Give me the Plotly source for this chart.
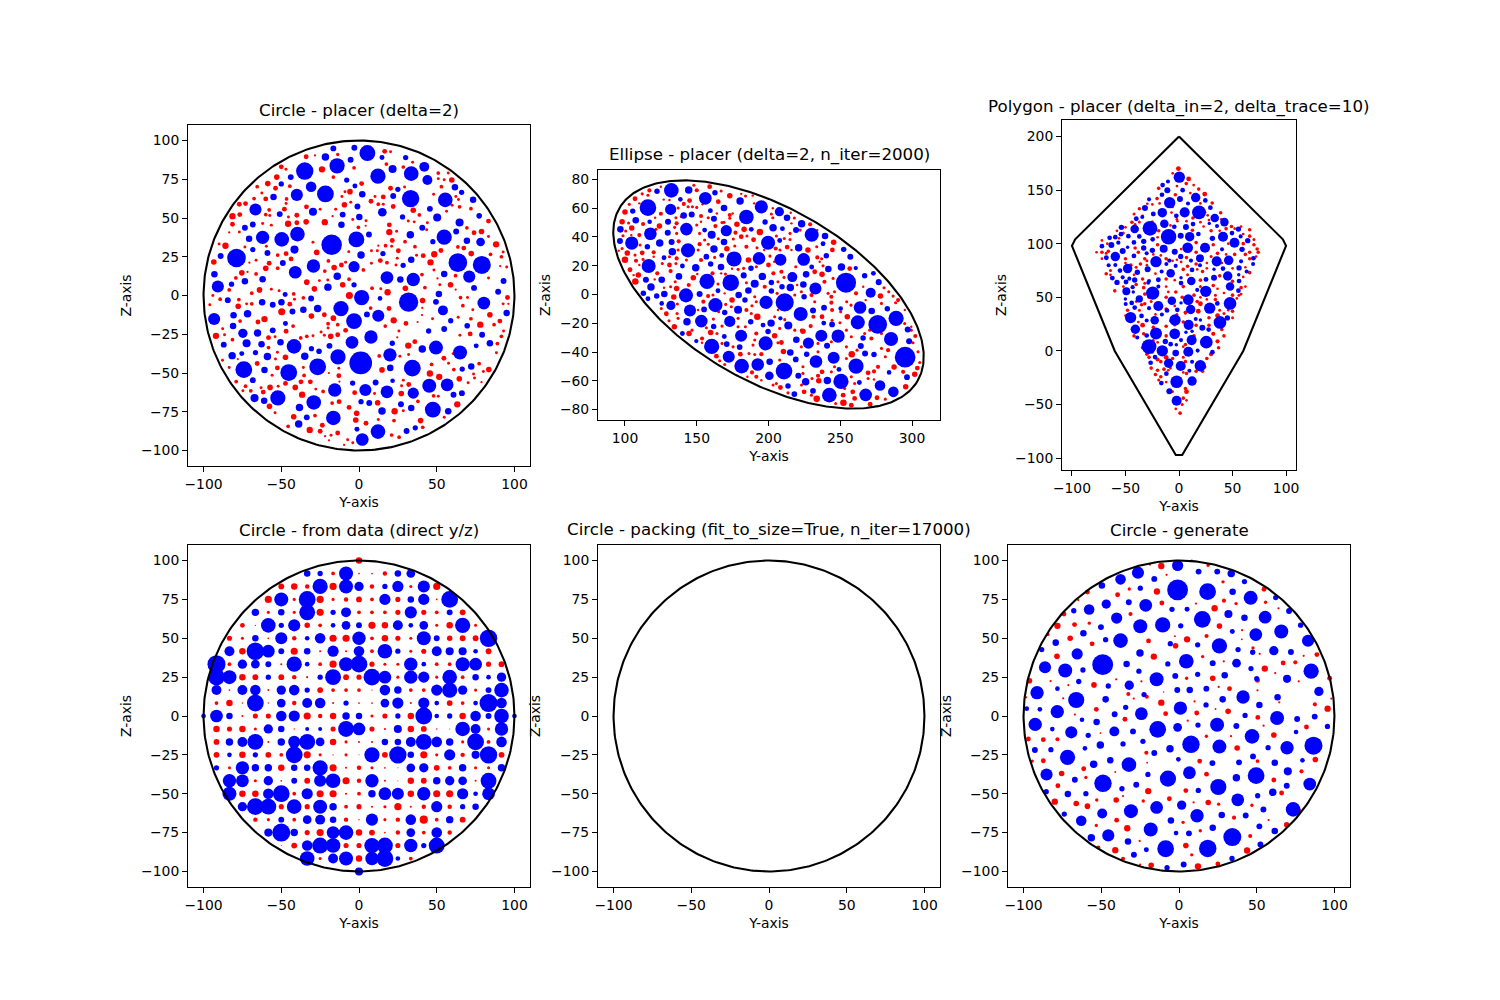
import numpy as np
import plotly.graph_objects as go

# Each placed disc is (y, z, radius) in axis units.
CIRCLE_BLUE = [
(5.4,91.9,5.1),(-16.5,94.9,1.9),(-3,95.3,1.9),(-21.6,89.3,2.4),(-34.9,80.3,5.6),(-14.1,83.7,4.9),(-5.4,87.6,1.9),(14.8,89,1.6),(30,89,1.7),(12.2,77,4.9),
(21.6,81.6,2.6),(33.6,78.6,4.7),(42,83,3.2),(44,74.5,3.2),(-43.9,76.4,1.9),(-7.9,74.5,1.7),(-50,72,1.7),(-30.8,70.2,3.4),(-2.6,70.7,1.6),(-21.6,65.5,5.4),
(-40,64.9,3.9),(-55,63.6,2.1),(2.1,65.3,2.1),(25,68.5,1.7),(22,64.2,1.9),(33.2,62.5,5.6),(55.5,61.7,4.7),(61.7,69.8,2.1),(66,66.6,1.7),(73.4,61.7,2.1),
(-66.6,55.5,3.9),(-1,57.4,1.9),(-29.6,54,2.6),(15,53.7,2.8),(-51,52.5,1.9),(-10.5,52.2,1.9),(0.2,50.7,2.1),(28,50.7,1.7),(45.6,55.9,1.9),(50.3,50.3,2.6),
(77.3,51.4,1.8),(64.7,47.1,2.6),(-11.3,45.6,2.1),(-68.3,45.8,1.9),(-73.4,43.7,1.9),(40.7,43.7,1.9),(62.5,41.3,1.9),(-39.6,39.6,4.7),(-62,37.5,4.3),(-70.7,36.6,2.1),
(-49.7,36.2,4.7),(33,39.2,2.4),(6.4,39.4,1.9),(-1.7,36.2,5.1),(-17.6,32.8,6.6),(54.8,37.7,4.9),(69.4,35.3,2.1),(78.2,34.5,2.8),(47.5,34.7,1.7),(-41.5,29.6,2.6),
(-68.3,29.6,1.7),(-58.9,27.4,1.9),(15.4,27,1.7),(1.3,26.1,2.4),(-89,25.5,1.9),(-78.8,24.2,6),(63.6,21.2,6),(79,19.7,5.8),(-49,21,1.9),(33.6,23.1,2.1),
(28.4,19.5,1.7),(-29.3,19,4.3),(-3.2,18.6,3.6),(-41,15,4.1),(-93,13.7,2.1),(54.8,13.9,2.1),(70.9,12.2,3.9),(-14,12.4,2.4),(18,11.6,4.1),(-62,10.5,2.1),
(26.6,10.3,2.1),(34.9,10.3,4.3),(-73.4,9.2,2.1),(93,9.4,1.9),(-82,7.3,1.7),(-90.8,5.8,3.9),(-3.2,6.9,1.7),(-20,5.4,2.4),(74,4.9,1.9),(89.5,2.4,1.9),
(-47.5,0.6,1.6),(51.4,0.9,2.1),(1.7,-1.3,4.9),(31.9,-4.3,6.2),(13.5,-1.9,1.5),(-84.4,-3,1.9),(-30.8,-1.9,1.9),(-62.3,-4.3,2.1),(-49.9,-4.3,2.1),(-55.5,-6,1.9),
(49.5,-4.1,1.9),(80.3,-4.9,4.1),(-11.6,-8.4,4.9),(-26.6,-8.4,2.4),(-35.8,-9.2,2.1),(-42.8,-10.3,1.9),(54,-9.6,3.2),(-71.7,-11.8,2.4),(-80.7,-12.8,2.1),(95,-11.3,2.1),
(5.1,-12.2,1.9),(12.4,-13.1,3.9),(-93.2,-15.2,3.9),(-3.2,-16.5,5.1),(-47.3,-18,1.6),(59,-16.3,1.7),(-81,-19.7,2.1),(69.6,-19.5,1.8),(54.8,-21.6,1.9),(-55.5,-22.5,1.9),
(44.8,-22.9,1.7),(-74.7,-24.4,3),(-65.3,-24.2,2.4),(79.2,-25.3,1.9),(7.7,-26.8,4.3),(-4.5,-30.2,4.1),(-72.3,-30.8,2.6),(-62.7,-31.5,2.1),(-50.5,-30.2,2.1),(-41.8,-32.8,4.7),
(21.4,-30.8,1.7),(84.2,-30.8,2.1),(-87,-31.7,1.9),(-19,-32.5,1.9),(75.4,-32.5,1.6),(49.5,-33.6,4.5),(40.7,-34.5,2.4),(-30.6,-34.3,1.7),(-25.7,-36,1.8),(65,-36.8,4.5),
(-66.6,-36.8,1.7),(-75.4,-37.5,1.6),(-81.6,-38.8,2.4),(-58.9,-39.4,2.4),(-34.9,-39.2,2.4),(-13.5,-39.6,4.9),(19.9,-38.3,4.3),(1.1,-43.5,7.3),(-26.6,-46,5.4),(34.3,-46.9,5.4),
(20.1,-46.7,2.1),(-74.1,-47.8,5.4),(-45.2,-49.7,5.4),(-60.8,-48,2.1),(72.2,-45.8,2.1),(66.4,-47.5,1.7),(-68.3,-54.6,1.9),(-4.1,-56.5,1.7),(10.7,-56.1,1.9),(21.6,-55,1.5),
(45.2,-58.2,4.5),(56.7,-57.6,4.1),(-15.6,-61,4.3),(4.1,-61,3.9),(18,-62.1,4.1),(34.9,-63,3.6),(60.8,-64,1.9),(66.2,-63,1.9),(-52.2,-66,4.9),(-67.2,-66.2,2.6),
(-61,-67.9,2.1),(-29.1,-69,4.7),(-38.3,-72.2,2.4),(1.3,-68.5,1.7),(6.6,-69.4,1.9),(27,-70.2,1.9),(33.6,-72.6,2.1),(47.5,-73.6,5.1),(14.8,-74.5,2.4),(57.4,-74.7,2.1),
(-16.5,-79,4.7),(-33.6,-78.6,1.9),(-38.8,-82.9,2.4),(12.2,-87.8,4.7),(-1.3,-86.3,1.6),(30.6,-87.4,1.9),(36.2,-85.4,1.7),(2.1,-92.9,4.1),
]
CIRCLE_RED = [
(-34,89.5,1.3),(-28.3,90.4,.6),(-13.7,91,.9),(16.5,93,1.3),(20.3,92.7,.8),(-50,83,1.3),(-47,81.4,.8),(-23.8,81.4,1.7),(-3.2,82.4,1),(17.6,84.8,1),
(28.5,82.9,1),(34.5,86,.8),(-52.9,76.4,1.5),(-16.5,76.4,1),(51,79,1),(57.4,79,.8),(59.7,74.5,1.5),(51,75.4,.8),(54.8,74.7,.8),(-65.5,70.2,1),
(-58.7,72.2,1.5),(-53.7,69.2,1.3),(-44.5,70.5,1),(1.7,72.2,1.3),(-5.8,67,1.5),(-9,67,.8),(20.3,69.2,1.3),(29.3,70,.8),(53,70.2,1),(15.6,63.6,1.3),
(10.3,63.8,.8),(-67.5,62.5,1),(-62.5,66.2,.8),(-60,62.3,1.3),(-46.6,62.3,1),(-11,63.8,.8),(7.7,60.8,1.3),(48,65.3,.8),(62.3,63.8,.8),(64,62,.8),
(-77,58.9,1.3),(-73,59.3,1.3),(-46.9,59.3,.8),(-9.4,58.5,1.5),(-5.3,60.2,.8),(12.4,58.9,1),(15.6,58.9,.8),(22,57.4,1.3),(-33.8,57.2,1.3),(-25,55.7,.8),
(-48,55.7,1.3),(-57.8,55.2,1),(59.9,58.2,.8),(64.7,57.2,1),(72,56,1),(-81.4,51.2,1.7),(-76.7,52.2,1.3),(-60,52.2,1),(-57.4,51.6,.8),(-45.4,50.7,.8),
(-40,51.8,1.3),(-15,55.7,.8),(-17,51.2,.6),(34.9,55,1.5),(38.8,52,1),(56.3,54.4,.8),(-81.4,46,1.3),(-45.6,46.3,1.7),(-40,46.9,1.3),(-34,47.5,1.5),
(-22,47.3,1.7),(-62,46.5,.8),(-56.4,45.4,.8),(-4,49,.8),(-.4,44,1),(4.3,45,.6),(4.5,48.2,.8),(19.5,45.6,1.3),(31.7,48,.8),(35.5,47.5,.8),
(44,46.9,.8),(69.4,43.7,1),(83.3,48,1.3),(-83.5,40.7,.6),(-77,40.9,.8),(19.5,40.9,1.7),(24.2,41.5,.8),(74,40.5,1.3),(78.8,41.3,1.5),(83.3,38,.8),
(43.5,42.4,.8),(29.6,34.7,1),(21.4,35.5,1.3),(-29.6,34.3,.8),(-90,33.2,.8),(-85.9,32.1,1.7),(-59.6,31.7,.8),(17.1,32.1,1),(12.4,32.1,.6),(21,31.7,.8),
(36,31.5,1),(-73.4,31.3,.8),(88.2,33,1.7),(-27.2,27.8,1.5),(-46.9,27,1.3),(-52.3,26.1,1),(-6.6,28.3,.8),(8,28.9,.8),(11.8,28.9,.8),(25.3,28.9,1.3),
(52.7,29,1.3),(63.6,31.3,1),(67.4,30.6,1.3),(72.2,27,1.5),(84.6,26.6,1),(92.7,28,.8),(48.4,26.6,1.7),(41.3,25.7,1.3),(37,26,.8),(24.6,24,.8),
(-43.7,23.6,1.3),(-66.2,22.7,.8),(-70.5,21.2,.6),(-57.8,20.8,1.3),(-19.7,22.3,1),(8,20.8,.8),(13.7,22.5,1.3),(18,21.2,1),(23.8,19.7,.8),(46,21.4,1.7),
(91.6,25,1),(-93.4,21.6,1.5),(-8.6,21.4,.8),(-11.3,19.7,1.3),(-16,18,1.5),(-22,15.8,1),(-60,17.6,1.5),(-52.3,17.6,1),(-66.2,13.9,1),(-75.4,14.6,1.5),
(-71.7,15.2,.6),(2.8,16.5,1),(48.2,16.5,.8),(40.5,13.5,1),(62.1,12.8,1),(50.5,11,.6),(90.8,19,.6),(95,18.4,.8),(83.3,11.3,.8),(-79.2,11.3,1),
(-33.6,8.6,1.5),(-25.5,9.6,.8),(-10.5,6.9,1.5),(-20.1,10,.8),(-6.4,10.5,1),(-28.7,4.3,1.5),(8.4,4.7,1),(14,4.3,.8),(18.4,2.1,1.7),(29.8,4.7,1.5),
(42.4,5.1,1),(58.9,6.9,1.5),(52,6.9,.8),(62.2,3.8,.6),(-83.5,3.6,1),(-64,3.6,1.5),(-69,1.5,1),(-56.4,4.1,.8),(-51.4,3,.8),(-94,0,.8),
(-89.3,-2.4,1),(-77.3,-2.6,1),(-42,1,1),(-41.5,-2.4,.8),(-35.8,-1.5,1),(-6.2,0,1.9),(40.9,-3.2,1.5),(65.3,-1.3,1),(69.8,-1.3,.8),(95.5,-1.3,1.3),
(-96,-6,.8),(-77.7,-6.9,1.5),(-72.3,-5.4,.8),(-69,-5.4,1),(-44.5,-5.6,1.3),(-49.7,-10.5,1.9),(7.5,-8.1,1),(19.3,-8.4,1.3),(40.7,-8,.6),(66.8,-6.6,1),
(92.7,-5.4,.8),(96.1,-5.4,.6),(-30.6,-13.3,1.5),(-22.3,-12.4,1.3),(-16.5,-14.6,1.5),(73.2,-9.2,.8),(84.2,-12.4,1.5),(40.5,-12.6,.6),(-60.8,-15.2,1.7),(-65,-17.1,1.3),
(-76.5,-16.5,1),(-19.9,-18.2,1),(-13.7,-18.8,1),(22.3,-16,1.7),(30.2,-18,1.3),(16.9,-19.7,1),(47.3,-15,.8),(63.8,-14.1,.8),(72,-15,1),(78,-18.8,1.7),
(90.6,-16.5,1.3),(86.9,-18.8,1),(-42.4,-19.7,1),(-87.7,-21.4,.8),(-46.9,-23.1,1.3),(-19.9,-21,.8),(-8.6,-22.5,1.3),(-24.4,-23.6,.8),(-92,-26,1.7),(-86.5,-25.3,.8),
(-58.2,-27.2,1.3),(-54,-26.6,.8),(-37.5,-27.4,1),(-33.6,-26.3,1),(-29.6,-26,.8),(-22.3,-25.7,.8),(-18.2,-26.3,1.5),(-13.7,-25.3,1.3),(25.7,-22.9,.8),(37.7,-17.1,.6),
(64.9,-25.7,.8),(71.5,-24.8,1.3),(93,-22.9,.8),(91.6,-26.3,1),(-81.4,-28.5,1),(31.7,-32.3,1.7),(35.9,-29.8,1.3),(89,-31,1),(24.6,-27,.6),(-58.2,-33.6,1),
(-52.5,-36.6,.8),(-47.3,-39.8,1.5),(13,-39,1),(26.3,-39.2,.8),(31.9,-38,.8),(88.4,-37,.8),(-87.8,-41.8,.8),(-78,-41,.6),(-65.5,-43.9,1.3),(-53.7,-41,.8),
(54.6,-40.5,1.3),(60.6,-37.5,.8),(46.7,-44.5,1),(57.6,-43.7,.8),(77.3,-44,1),(-83.5,-46.5,.8),(-52.5,-46.7,1.3),(-35.8,-46.5,.8),(-13,-47,.8),(14.8,-48,1.5),
(45.6,-50.3,1.7),(51.6,-52.5,1.7),(61,-47.8,1),(83.5,-47.8,1.5),(80,-49,.8),(73.7,-50.7,.8),(-13,-51.8,1.3),(-19.4,-50,.6),(-35.3,-51.6,1),(-55.9,-51.4,.8),
(64.5,-53.7,1.5),(74.3,-53.3,.8),(28.5,-54.6,.8),(-79,-55.5,1),(-47.3,-56.7,1.3),(-37.3,-55.7,1.3),(-31.3,-55.7,1.3),(-12.6,-55.5,.6),(32,-57.4,1.3),(27.4,-58.2,.8),
(-73,-58.5,1),(70.2,-56.3,.8),(78.8,-55.9,.6),(-57.2,-59.3,1.5),(-52,-58.5,.8),(-41,-59.3,1.5),(-27.8,-60.4,.8),(-23.1,-61.9,1),(-63,-59.5,.8),(-69.6,-61.5,1),
(-74.7,-61.5,.8),(-61.6,-62.3,1.3),(-2.8,-62.7,1.3),(10,-63.2,.8),(27.2,-63.2,1.5),(48,-64.7,1),(51,-65,.8),(37.9,-68.3,1),(-36.6,-64,1.7),(-17.3,-69.4,1),
(-12.8,-68.5,1.3),(12,-69.2,1.5),(-57.6,-71.5,1.5),(-6.4,-72.2,1.3),(63.2,-70.2,1.7),(22.9,-74.7,1.7),(-1.5,-76,1.5),(-54,-75.6,.8),(28.5,-74.3,.8),(-42,-78.2,1.5),
(-28.3,-77.5,1),(54.8,-78.6,.8),(-2.1,-80.3,1.5),(12.4,-80,.8),(22.5,-80.7,1),(39.6,-80.7,1.5),(-45.6,-84.4,1),(-23.6,-83.7,1.3),(4.5,-82.4,1.3),(-31.7,-86.7,1.7),
(-25,-87.6,1.3),(-13.7,-88.7,1.3),(41,-85,1),(21,-90,1),(25.8,-91.4,1),(-21.8,-90.8,.6),(-18,-90.2,.8),(-7.3,-93.1,.8),(-4,-95,.8),(-9.6,-96.4,.6),(-19.3,-93.4,.6),
]

ELLIPSE_BLUE = [
(132.3,72.4,5.1),(144.4,72.7,2.6),(122.3,71.8,1.9),(156,66.9,4.4),(162.7,70.8,1.9),(116,60.4,5.8),(131.8,59.2,3.9),(138.6,66.2,1.6),(180.2,65,2.6),(169,60.2,2.3),
(105.4,58,1.9),(195,61,4.6),(207.6,57.6,3.2),(140.9,55,2.3),(146.5,55.7,2.1),(107.5,51.6,2.3),(117.2,50.6,1.6),(130,50.6,2.1),(159.5,58.3,1.7),(162,52.7,2.1),
(184.6,53.9,5.1),(212.9,53.4,2.3),(223.1,49.2,2.6),(197.6,50.4,1.9),(96.8,45.3,2.3),(117.7,42.3,4.4),(142.8,45.5,4.4),(129.8,43,2.1),(155.5,44.8,1.7),(160.4,41.6,2.8),
(170.6,44.4,3.9),(188,45.3,1.7),(203.2,46.5,2.6),(209.7,45.8,1.7),(219.2,44.8,2.1),(230.1,41.6,4.9),(239.4,40.7,2.3),(96.5,37.2,2.1),(104.7,35.8,4.6),(124.2,35.8,2.6),
(132.5,36.5,2.1),(115.6,33.2,1.9),(169,36.5,2.3),(199.7,36,4.9),(207.8,37.6,1.7),(238,35.3,1.7),(143.9,30.7,4.9),(162,31.6,2.6),(133,29.8,2.6),(221,32.5,2.6),
(252.4,31.4,1.9),(127.2,25.6,1.7),(167.4,27.2,1.7),(156.7,26.3,2),(176,24.7,5.3),(193.4,25.1,4.4),(208.3,24.2,4.2),(224.5,24.4,4.4),(240.3,27,1.9),(257,26.3,2.1),
(116.5,19.8,4.9),(140,19.8,1.7),(149.3,18.6,2.6),(159.7,21.2,1.9),(166.9,19.1,2.3),(187.8,18.2,1.9),(250.8,19.1,2.6),(260.8,18.4,1.5),(241.7,17.7,2.3),(230.1,19.1,1.7),
(273.1,14.7,1.7),(137.6,12.6,2.3),(182.7,13.3,2.1),(195.7,12.6,2.6),(216.6,12.1,3.5),(226.2,14,2.3),(267,13.1,1.9),(114.6,10.3,2.1),(125.6,10.3,2.3),(157.2,9.1,5.3),
(173.7,8.2,5.8),(254,8.2,7),(276.8,8.6,2.1),(118.1,5.2,2.6),(190.4,7.5,2.8),(202,8.4,1.9),(209.4,5.4,1.9),(215.2,4.9,2.6),(224.3,7,2.3),(232.7,4.2,4.2),
(164.8,2.6,1.7),(186,2.8,2.3),(202,2.4,1.9),(271.2,1.2,3.5),(112.8,.8,1.9),(127.4,.3,2.3),(142.5,-.6,4.9),(152,.3,2.1),(122.1,-1.1,1.9),(179.2,-.4,2.3),
(224.8,-1.6,1.9),(116,-3,1.7),(163,-7.4,4.9),(183.6,-3.9,1.9),(198.3,-5.5,4.6),(211.3,-5.5,6.3),(125.6,-6.2,1.6),(132,-7.6,3.2),(145.3,-11.1,4.2),(155.1,-10.4,2),
(178.8,-10.6,2.8),(263.8,-9,4.4),(238.7,-9.2,2),(231,-11.1,2.1),(250.3,-9.7,1.6),(282.8,-9.9,1.9),(271.9,-11.5,2.3),(169.5,-12.5,1.9),(222.4,-13.6,4.9),(288.9,-16.6,5.3),
(173,-18.7,3.9),(153.2,-18.5,4.4),(143.2,-19,2.6),(161.8,-22.2,1.9),(187.6,-19,1.9),(208.3,-16.6,1.5),(196.2,-21.3,1.7),(201.8,-19.9,2.6),(213.8,-21.5,2.8),(238.5,-19.9,1.7),
(244.3,-20.8,2),(262.2,-19.4,4.9),(276.1,-20.8,6.5),(297,-24.3,2.1),(140,-27.1,1.7),(199.7,-25.7,1.9),(180.9,-28.7,4.2),(169.2,-29.2,1.7),(236.8,-28.7,4.2),(248.5,-28.9,4.6),
(265.9,-30.3,1.9),(285.4,-31,4.9),(149.7,-32.4,1.5),(198,-34,4.9),(219.4,-31.5,2.3),(227.8,-33.8,3.9),(298,-32.6,2.1),(160.4,-36.1,5.3),(170.9,-34.5,2),(179.9,-36.6,2),
(240.8,-35.7,2.1),(264.3,-35.9,2.1),(215.2,-40.3,2.3),(226.6,-41.5,1.9),(267.3,-41,2.1),(273.5,-41.7,1.9),(295.2,-43.6,7.2),(172.3,-43.3,4.2),(245.4,-44,4.2),(219,-45.2,2),
(233.1,-46.6,4.4),(200.8,-46.8,2.3),(181.3,-49.8,5.1),(192.5,-48.7,4.4),(261,-49.8,5.3),(249.1,-52.1,1.7),(210.8,-53.3,5.8),(284,-54.2,1.6),(200.6,-56.5,3),(220.8,-56.5,2.1),
(296.5,-57.5,2),(225.9,-60.7,2.6),(241,-59.8,2.6),(250.5,-60.5,5.3),(263.3,-61.2,1.7),(277.7,-63.3,3.7),(213.6,-63.7,1.9),(231,-67,2),(287,-67.7,3.7),(218,-69.3,2),
(242.4,-70,5.1),(267.7,-69.8,4.4),
]
ELLIPSE_RED = [
(148,76,.9),(159,75,1.4),(117,72.4,1.2),(125,75,.7),(112,70,.9),(150,72.5,1.2),(167,72,.9),(173,68.7,1.6),(116,69,.9),(107,66.6,1.4),
(127,66,.7),(131,65.7,.7),(145,65.3,1.4),(165,64.6,1.4),(181,70,.7),(184,68.5,.9),(189,68.8,.7),(103,62.7,.9),(110,63.4,.7),(141,63,1.2),
(144,61,.9),(150,60.6,.9),(147,61,.9),(137,60.2,.9),(154,62.7,.7),(100,57.4,1.6),(125,56.2,1.2),(164,56.4,.7),(173,55.3,1.2),(203,60,.7),
(202,56,.9),(215.5,56.9,.7),(121,53.4,.7),(135.5,53.4,.9),(139,54.1,.7),(153,54.6,1.2),(158,53.4,.9),(169,50.2,.9),(173,53,.9),(175,56.4,.7),
(190,63.4,.7),(218,53.2,.9),(229,48.8,1.2),(98,50.6,1.6),(102.5,49.7,.9),(112.6,49,1.2),(124,47.6,1.6),(136,49.5,1.2),(150,48.3,.9),(163,47.6,1.2),
(167.6,50,.9),(178,48.8,1.6),(183,45.3,1.6),(203,53.4,.9),(216,49.5,.7),(104.7,46.2,1.6),(100.5,44.2,.9),(121.6,45.3,.9),(134.6,46.7,.9),(153,50.6,.7),
(194,43.4,1.9),(205.5,40.7,.9),(215,42.5,.9),(222,44.8,.9),(110,41.3,1.2),(104.4,41.3,.7),(136,42.5,.9),(152,42.5,.9),(177,43,1.2),(181,40.2,1.4),
(185,40.7,.9),(189.6,38.1,1.4),(175.5,38.6,.9),(165,38.8,.9),(155.5,37.9,.9),(98.6,40.9,.9),(211,39,.9),(215,38.3,.9),(245.4,36.3,1.6),(234,44.8,.7),
(137.4,37,1.2),(152,35,1.2),(158,35,.9),(171,31.9,1.6),(176.5,33.7,.9),(184.6,33.2,1.2),(192,32.5,.9),(205,32,1.2),(213,33,1.4),(227.5,31,1.6),
(233.6,33.2,.9),(244.5,31,1.4),(110.5,34.4,.9),(95.6,30.5,.7),(98,32,.9),(101.6,28.8,1.6),(112,29,1.4),(120,29.3,1.2),(137,30.9,.9),(151,30.9,.9),
(208,30.9,.9),(216,30.9,.7),(234,25.8,1.2),(100,24.2,1.9),(107,27.4,.9),(107.7,23.5,1.2),(131,26.3,.9),(136,25.1,1.2),(120,26.3,.7),(162.5,25.8,.9),
(186,24,1.6),(201,26.7,.9),(197,30.9,.7),(256.6,18,1.4),(237,24.9,.9),(235.7,22.8,.7),(103.5,17.2,1.4),(110,20.5,.7),(112.6,24.4,.9),(131,20.5,1.4),
(126,21.6,.9),(142.8,24,.9),(135.5,21.6,.9),(153,24,1.2),(178.8,17.5,.9),(182.7,18.2,.9),(191.5,19.3,.9),(200,20.5,1.4),(204,22.8,.7),(219,19.3,.9),
(238,20,.9),(109.3,13.5,1.6),(106,13.5,.7),(107.2,9.1,1.9),(122.5,14.7,1.2),(131.8,16.3,1.2),(161,14.7,1.2),(170,14.2,.9),(174.6,17.9,.7),(203.4,14.7,1.2),
(209,15.8,1.2),(210.8,11.9,.9),(232.2,15.8,1.4),(237.3,14,1.6),(245,11.2,.9),(147.6,11.7,1.6),(150.4,14.2,.7),(120.7,10.5,.7),(135,8.9,.9),(144.4,6.6,1.2),
(164.8,7.3,.9),(184.6,8.2,.9),(206.6,8.9,.9),(220,6.6,.7),(239,8.9,1.2),(136,4.2,1.6),(131.8,5.4,.9),(127.2,4.7,.7),(167,14.7,.7),(197.4,5.4,1.2),
(206,.8,.9),(222.9,1.9,.9),(230,-.4,1.2),(241.5,.8,.9),(246,1.9,.9),(261,.8,1.2),(266,5.4,.7),(280.5,4.7,.9),(134,-1.8,1.6),(157.9,-1.1,1.2),
(161.3,-.4,.9),(169.5,.8,.7),(174.6,-3.9,1.6),(190.4,-1.6,.9),(191.5,-5,.9),(218.3,-.4,.9),(243.8,-1.6,1.2),(278,-1.1,1.6),(283.8,1.9,.9),(286.8,-1.1,.9),
(290.3,-3.9,1.2),(136.5,-6.6,.9),(154.6,-5,1.2),(170.2,-6.9,.9),(174.1,-8.5,.9),(188.5,-7.8,.9),(232.2,-5,.9),(243.8,-5.7,1.2),(254.5,-5,.9),(257.5,-7.4,.9),
(267.7,-3.9,.7),(278.7,-6.2,.9),(288.6,-5.7,.9),(128.8,-13.4,1.4),(125.3,-9.7,.9),(136.3,-13.2,.9),(165.3,-12,.9),(150.9,-10.8,.7),(184.6,-10.8,1.2),(188,-13.2,.9),
(192.2,-15.5,1.9),(204.3,-15.5,.9),(206.6,-10.8,.7),(231.3,-15.5,1.2),(237.3,-15.5,1.4),(244.3,-10.8,1.2),(250.3,-12,.9),(254.9,-15.5,1.6),(295,-10.8,.7),(130.7,-18.3,.9),
(137,-16.6,.9),(161.6,-17.1,.9),(178.8,-16.6,.9),(178.8,-22.4,.9),(183.9,-22.4,.9),(211.3,-17.5,.9),(222.9,-24.8,.9),(229.4,-22,1.2),(244.3,-17.9,.9),
(249.8,-19.7,.9),(294.9,-20.2,.9),(299.5,-22.4,.7),(134.4,-22.4,1.6),(146.7,-24.8,.9),(156.7,-23.1,.9),(167.6,-22,.9),(191.5,-27.1,1.2),(207.8,-23.6,.9),(218.3,-24.8,.9),
(224,-25.5,1.6),(254.3,-24.8,.9),(267,-27.1,.9),(270.5,-24.8,.9),(278.7,-27.1,.9),(299.5,-24.8,.9),(144.6,-27.1,1.6),(159.7,-26.4,1.6),(164.1,-27.1,.9),(153.7,-30.6,1.2),
(153.7,-33.6,.7),(167.6,-34,.9),(204.3,-28.7,1.6),(190.4,-31.7,.9),(206.6,-33.6,.9),(209,-33.4,1.4),(234.5,-34,.9),(243.8,-32.9,.9),(257.7,-29.4,.9),(271.7,-30.6,1.2),
(302.3,-28.9,1.2),(300.7,-33.6,.9),(175.3,-36.4,.9),(189.2,-35.2,.9),(195,-41.5,1.2),(210.4,-39.6,1.6),(222.9,-36.4,.9),(234.5,-39.9,.9),(254.3,-36.4,.9),(258,-41.5,1.9),
(261.7,-38.7,.9),(278.7,-37.5,.9),(283.3,-38.7,1.2),(163.7,-42.9,1.4),(166,-46.1,.9),(180.4,-41.5,1.4),(186.4,-41,.9),(190.4,-41.7,.9),(207.8,-45.6,.9),(224,-50.3,.9),
(246,-50.3,.9),(254.3,-44.5,.9),(281.4,-43.3,.9),(304.2,-39.8,.9),(276.3,-50.3,1.2),(287.5,-50.5,1.6),(305.4,-47.3,.9),(303.7,-51.2,1.4),(169.5,-48.7,.9),(188.5,-54.2,1.2),
(191.5,-57.2,1.2),(185.3,-57.2,.7),(224,-54.9,.9),(229.9,-48,.7),(237.3,-53.8,1.4),(234.5,-56.5,1.2),(243.8,-53.8,.9),(269.4,-54.5,1.4),(273.5,-53.5,1.2),(293.8,-53.8,1.2),
(301.9,-55.4,1.6),(195,-59.6,.7),(205.5,-61.9,.9),(235,-60,1.6),(230.3,-58.4,.9),(257.7,-57.2,.9),(269.4,-58.4,.9),(273.5,-59.1,.7),(208.3,-64.7,1.4),(223,-63,.9),
(253.1,-65.4,.9),(260,-61.9,.9),(295.6,-64.2,1.6),(203.2,-63,.9),(224.8,-67.7,1.4),(213.6,-68.4,.9),(258.7,-67.7,1.4),(233.6,-72.6,1.9),(229.9,-70,.9),(252,-70,1.4),
(260,-72.3,1.4),(275.6,-71.8,1.4),(281.4,-72.8,.9),(252.2,-75.3,1.9),(246.8,-75.8,.9),(257.7,-77,1.4),(270.8,-76.3,1.4),
]

POLYGON_BLUE = [
(.3,162,5.3),(-15.3,154.6,2.2),(-10.3,158,1.9),(-10.9,149.9,2.8),(-15.9,145.6,2.2),(3.4,149.9,2.2),(15.6,143,4.4),(-8.7,138.2,5.3),(.9,141.6,2.8),(-28,141.3,1.9),
(24.6,140.3,2.2),(-31.8,133.2,2.8),(5.3,129.2,4.7),(18.7,129.2,6.5),(-15.6,128.9,4.4),(29.3,133.6,2.2),(8.4,137.5,1.9),(-24,127.6,2.3),(-39.9,123.3,2.3),(-34.3,124.8,1.9),
(-2.5,126,2.2),(33.4,124,4),(42.4,120.1,4),(-13.7,118.6,4),(-27.1,114.3,6.9),(-41.4,113.6,4),(-53.8,115.2,2.5),(6.5,115.5,2.8),(13.1,118.3,2.2),(-4.4,115.8,2.2),
(28.3,118.9,1.6),(35.5,116.4,1.9),(55.5,113.6,2.5),(-9.7,106.5,7.2),(1.6,107.5,2.8),(10,106.5,4.4),(18.1,109,2.2),(41.1,106.5,4.7),(49.5,109.9,2.2),(57.6,106.8,1.9),
(-64.8,105.5,2.2),(-59.5,106.1,2.2),(-54.2,108.9,2.2),(-47.3,107,2.2),(-37.1,106.8,2.2),(31.2,105,2.5),(64.2,102.8,2.5),(-42.1,101.2,2.2),(-33.0,102.2,2.5),(-24.6,104.1,2.2),
(-56.7,100.9,2),(-63.2,98.7,2.8),(-72,97.7,2.2),(51.8,100.9,4.7),(8.1,96.2,5),(24.3,96.2,4.7),(-14.3,95.3,3.7),(-33,96,2.5),(-48,96.6,1.6),(-52.6,93.1,2.8),
(40.2,94.7,1.9),(58.9,94.7,2.5),(-4,92.5,2.8),(-24.9,93.8,2.5),(-30.2,91,1.9),(-59.5,88,4.4),(-67.9,86.8,2.3),(-42.1,88.6,2.2),(1.6,88,2.5),(19.6,86.4,3.7),
(69.5,86.4,2.2),(35.2,83.5,4.7),(46.4,84.5,4.4),(-9,84.2,2),(11.2,84.2,1.9),(58,83.5,1.9),(-21.5,83.2,5.3),(-48,76.8,4.4),(-65.7,79.8,1.9),(-59.5,80.1,1.9),
(-11.8,81.1,1.9),(-3.1,79.3,1.9),(69.2,81.1,1.9),(19.6,79.8,1.9),(-29.3,76.2,2.8),(-55.1,74.9,2.2),(32.7,76.2,1.6),(41.1,76.8,2.2),(56.1,77.4,2.5),(-16.2,74,1.9),
(-7.8,72.5,4),(12.2,75.5,2.2),(45.5,69.9,4.4),(-38.9,73.4,2.5),(63.2,74,1.9),(55.8,71,1.6),(-62.3,67.9,2.3),(1.9,68.3,1.6),(32.7,68.3,2.8),(25.2,66.7,2.3),
(-52.6,68.6,1.9),(-46.4,67.4,1.9),(-41.4,66.1,2.5),(-19.3,66.4,2.3),(-28,65.2,1.9),(56.1,65.2,2.2),(11.5,65.2,4),(-57.9,63.9,2.5),(-49.5,64.2,2.3),(1.9,63.3,2.2),
(-28.8,63.6,1.8),(47.7,60.1,4),(-43.3,59.4,2),(-19.3,60.1,1.9),(-24.6,53.9,6.2),(-49.2,55.6,3.7),(25,55.6,5.3),(17,56.9,1.9),(-42.7,54.9,1.6),(55.5,56.2,2.2),
(8.7,47.8,5),(-6.7,46.8,4),(35.8,44.3,2.2),(-37.1,48.5,3.4),(47.7,44.3,5.9),(-50.1,48.5,1.6),(-49.8,43.8,1.9),(-44.2,44.8,2.2),(1.9,44.8,1.6),(-19.3,41.9,4.7),
(-28,39.9,1.9),(-41.4,40.4,2.2),(28.7,39.9,5.3),(10.9,38.6,4.4),(-11.2,37.7,2.2),(-1.6,38.3,2.2),(-16,33.9,1.9),(-45.2,31.1,5.3),(-35,32.6,2.2),(38.3,26.6,5.9),
(-3.7,28.9,5.3),(-22.7,28.6,4),(-30.2,28.3,1.9),(45.2,30.8,2.5),(15.6,29.8,1.9),(20,28.9,1.6),(9,24.3,4.7),(21.8,21.7,2.8),(-40.8,20.2,4.4),(27.7,19.9,2.2),
(6.5,17.5,1.6),(-21.5,16.3,5.6),(-4,16,5),(12.2,18.4,1.6),(-30.2,14.4,2.2),(11.8,10.1,4.7),(-39,12.6,1.9),(25.5,8.2,5.9),(-28,4.1,6.9),(-12.8,8.8,2.5),
(1.9,10.1,1.9),(-7.8,6.3,2.2),(-2.5,5.7,1.6),(-15.6,.1,5.3),(8.7,-.8,4.7),(-3.1,-2,3.1),(17.4,.3,1.9),(31.2,-1.2,2.2),(-9.7,-11.5,4.4),(1.6,-14.1,4.7),
(-22.4,-5.7,2.2),(19.9,-13.8,5.3),(-26.5,-11,2.2),(12.2,-10.1,1.9),(9.7,-18.5,1.9),(-11.8,-21.2,2.2),(-2.2,-28.7,5.9),(12.2,-28.1,4.4),(-16.5,-30,2.2),(-9,-37.5,2.8),
(-2.2,-46.4,4.7),
]
POLYGON_RED = [
(-.6,170,1.6),(-5.9,165.6,.9),(9,160.4,1.6),(6.8,156,1.2),(-19,151.6,1.2),(-1.9,153.7,.9),(13.7,154.6,.9),(18.4,150.9,1.2),(24,146.2,1.6),(-20.5,142,1.2),
(20,137.5,.9),(31,137.9,1.2),(-3.4,145.6,1.2),(10.6,147.2,.9),(-24.9,136.6,.9),(-18.1,137.5,.9),(-6,134.4,1),(24.3,129.2,.9),(38.9,128.9,1.2),(-37,132.6,1.2),
(-29.6,137.2,.9),(-42,127.6,1),(-34,126,.9),(-7,129,.9),(13,124,1.2),(26.8,126.4,.9),(39.5,122.7,.9),(-44,120,1.2),(-50,115.2,.9),(-37,120.1,1),
(-25,120.4,1),(-2,122.7,.9),(20,120,.9),(28,122,.9),(49,116,1.2),(58,116,.9),(-52,110,1),(-41,118,.9),(-19,112,1.2),(-1.5,121,.9),
(12.5,112.5,1.2),(30,112,1.2),(44,114,1.2),(66,113,1.2),(-58,112,.9),(-67,100,.9),(-56,105,.9),(-20,106,.9),(-8,117,.9),(7,121,.9),
(23,116,.9),(38,112,.9),(52,114,.9),(60,109,.9),(66,107,1.2),(70,104,1),(-72,103,.9),(-41,96,1.2),(-20,99,1.2),(-6,103,.9),
(16,101,1.2),(32,99,1.2),(46,100,.9),(60,100,1.2),(70,99,1.2),(73,95,1.2),(-77,92,.9),(-72,92,1.2),(-66,93,1.2),(-38,92,1.2),
(-12,86,1.2),(2,95,.9),(16,92,1.2),(36,91,1.2),(52,90,1.2),(66,92,1.2),(74,92,1.2),(-72,86,.9),(-68,91,1),(-50,86,1.2),
(-32,86,1.2),(-17,89,.9),(7,87,1.2),(30,88,1),(44,90,.9),(62,90,1.2),(72,88,.9),(-50,82,.9),(-36,81,1.2),(-24,90,.9),
(2,83,.9),(16,81,1.2),(26,82,.9),(66,86,1.2),(-45,80,1.2),(-30,84,1),(-2,85,.9),(8,79,1.2),(26,77,.9),(50,77,.9),
(-40,78,1),(-30,80,.9),(-6,84,.9),(4,76,1.2),(22,74,1.2),(40,82,.9),(62,78,.9),(-68,72,1.2),(-42,71,.9),(-22,72,.9),
(-12,67,1.2),(8,71,1),(20,66,1.2),(38,70,1.2),(66,73,1.2),(-64,75,1),(-34,67,1.2),(-4,66,.9),(17,76,.9),(50,65,1.2),
(60,69,.9),(-64,71,.9),(-33,59,1.2),(-12,60,.9),(4,60,1.2),(20,60,1),(32,61,1.2),(58,59,1.2),(-40,62,1.2),(-32,63,1),
(-3,55,1.2),(34,52,1),(56,52,1),(62,60,.9),(-32,53,1.2),(-10,55,.9),(14,52,1.2),(20,50,.9),(36,58,.9),(50,52,1.2),
(-60,56,1.2),(-35,43,1.2),(-12,50,1.2),(3,50,1.2),(34,48,1.2),(58,53,.9),(-52,60,.9),(-28,50,1.2),(-4,42,.9),(17,46,1.2),
(42,54,.9),(54,49,.9),(-26,46,1),(-12,39,1.2),(20,44,1.6),(26,48,.9),(38,38,1),(-37,38,1),(-32,44,1.2),(-2,34,1),
(6,36,1.2),(30,38,1.4),(50,37,1.2),(-48,38,1.2),(-40,46,.9),(-22,34,.9),(18,37,1.6),(36,33,1.6),(50,31,1),(-50,33,.9),
(-34,24,1.6),(-24,22,1.2),(6,35,.9),(28,31,1.2),(42,35,1),(-38,27,.9),(-12,23,1.2),(16,24,1.2),(34,28,1.2),(46,38,.9),
(-33,16,1.2),(-8,28,.9),(4,27,1.2),(28,24,1.2),(40,20,1.2),(-42,14,1.2),(-24,10,.9),(-4,24,.9),(14,14,1.2),(32,16,1.4),
(42,14,1.2),(-30,8,1.2),(-20,8,.9),(-12,14,1.2),(36,9,1.4),(-34,3,1.2),(6,6,1.2),(26,6,1.2),(37,3,1.2),(-30,-3,1.2),
(-25,-1,1.2),(4,4,.9),(-17,-10,1.2),(-12,-6,1.6),(4,-6,1),(30,-3,1.4),(-28,-6,1.2),(-20,-8,1.4),(-6,-7,1.2),(26,-7,1.2),
(-20,-18,1.2),(-26,-16,1.2),(-14,-17,1.2),(-10,-18,.9),(6,-10,1.2),(16,-19,1.2),(24,-15,1.2),(-22,-22,1.2),(-17,-24,1.2),(-8,-16,1),
(7,-21,1.2),(22,-19,1.2),(-19,-27,1),(4,-20,.9),(6,-35,1.2),(-12,-29,.9),(7,-38,1.6),(-6,-38,.9),(4,-44,1.2),(-1,-33,.9),
(-3,-54,.9),(3,-50,1),(7,-46,.9),(1,-58,1.2),
]

GENERATE_BLUE = [
(-.9,96.8,3.6),(12.6,92.9,1.9),(24.6,92.9,1.9),(33.6,91.7,2.4),(-26.4,92.2,3.9),(-37.6,87.9,3.4),(-15.9,88.2,1.9),(-49.6,84,2.1),(-.9,81.1,6.7),(18.4,80,5.4),
(42.1,86.5,1.7),(-24.9,82.2,1.7),(34.5,80,2.1),(46.1,76,4.5),(-46.8,72,3),(-32.3,73.2,1.9),(-21.4,71.2,4.1),(-57.8,68.5,3.4),(-67.7,67.7,1.7),(62.2,76.2,1.7),
(70.8,67.5,1.9),(-4.5,68.6,1.7),(5.2,68.6,1.6),(15,62.2,5.4),(31.8,65.6,2.6),(42.1,63.2,2.1),(55.4,63.6,4.1),(-40.1,63,3.6),(78.2,58.4,1.7),(-24.9,57.7,4.5),
(-10.5,58.6,4.9),(1.1,58,1.7),(-50.2,57.2,1.9),(65.8,54.4,4.5),(-61.5,53.2,2.1),(49.4,52.4,4.1),(34.3,54.4,1.6),(83,48.4,3.9),(-37.6,48.5,4.7),(-47.2,49.1,1.7),
(-79.3,47.2,2.1),(26,45.1,4.9),(-5.6,46.5,1.7),(12,45.8,1.7),(-88.3,42.7,1.7),(38,42.7,1.7),(61,42,3),(72,41.2,1.9),(47.4,41,1.7),(-65.5,39.9,3.6),
(-25.1,40.5,2.4),(4.7,35.2,4.7),(-49.1,33,6.7),(-33.7,33.5,2.1),(-7.2,33.5,1.7),(21.7,34,1.9),(37,34,2.8),(-86.2,31.4,3.9),(-73.2,29.3,4.5),(-61.8,29.6,1.7),
(-25.8,28.8,1.7),(46.3,30.5,1.7),(85,28.8,4.9),(-14.4,23.6,4.5),(-2.4,25.8,1.9),(12,26.8,1.7),(29.4,26.2,2.1),(50,24,1.7),(69.5,23.9,2.6),(-64.5,22.2,1.7),
(-32,19.8,3),(-45.5,19.3,1.7),(-91.3,15,4.3),(-78.2,17.6,1.5),(-22.5,13.8,1.7),(-1.1,16.7,1.9),(6.9,16.7,2.1),(17.6,17.6,1.9),(41.2,12.2,4.3),(90,15.8,3),
(63.4,12,2.1),(-66.1,10.3,5.2),(-47.2,10.7,2.1),(28.1,10.7,2.1),(51.7,7.1,2.1),(.9,5.1,4.3),(17.4,7.1,1.7),(-97.9,4.7,1.5),(-89.5,4.3,1.5),(-78.3,2.8,4.3),
(-34.3,5.6,1.7),(-24.2,1.5,4.1),(-41.4,1.1,1.9),(42.5,.4,1.7),(63.1,-1.3,4.5),(87.3,-.4,1.9),(76,-1.9,1.9),(-62.4,-2.4,1.5),(-53,-3.9,2.1),(-92.5,-5.4,4.3),
(-81.5,-8.4,1.5),(24.5,-5.6,4.5),(-.9,-7.3,2.8),(12.2,-5.8,1.7),(36.9,-6.4,1.9),(95.5,-6.7,1.7),(-13.7,-8.6,5.4),(-41.6,-9.9,3.2),(-69.3,-10.5,3.9),(-29.6,-9.9,1.9),
(-58.4,-12.4,1.7),(75.3,-10.3,1.5),(47,-13.1,4.7),(7.7,-18.2,5.6),(-23.2,-16.3,1.7),(26,-19.7,4.5),(86.5,-19.1,5.8),(69.5,-20.4,4.3),(-50.6,-18.7,2.4),(-36,-18,1.7),
(-5.8,-21,2.4),(-82.4,-21.7,1.7),(-92.7,-21.9,1.9),(-60.5,-20.8,1.5),(57.3,-20.4,1.7),(-71.7,-26.6,4.9),(-15.9,-23.8,1.9),(47.6,-26,1.9),(-.4,-27.9,1.5),(-44.2,-28.5,2.1),
(79.4,-28.5,1.5),(-32.2,-31.3,4.7),(-54.9,-31.1,2.4),(21.5,-30.3,1.9),(38.6,-29.8,1.9),(61.6,-30,2.1),(6.7,-36.5,4.1),(70,-35.6,2.6),(-20,-37.6,1.7),(-85.2,-37.6,3.9),
(49.6,-38.4,5.4),(-7.1,-40.3,5.2),(36.9,-39.7,2.4),(-67,-41,1.9),(-48.9,-43.3,5.6),(25.3,-45.7,5.2),(84.1,-43.8,4.1),(-27.5,-44.2,1.9),(69.3,-44.9,1.9),(12.4,-47.9,1.7),
(-36.7,-46.8,1.7),(-85.4,-48.7,1.7),(-71.5,-50.2,2.1),(-59.9,-50,1.7),(50.6,-51.3,1.7),(60.3,-49.1,2.4),(37.8,-53.9,4.1),(1.7,-57.3,3),(-14.4,-58.8,4.1),(73.4,-60.1,4.7),
(-30.9,-61.2,4.5),(-49.4,-62.7,3.2),(11.6,-64.2,4.3),(54.3,-60.1,1.9),(27.5,-63.7,2.1),(42.9,-64,1.9),(-73.8,-63.1,1.7),(-62.9,-67.4,3.4),(-5.2,-67.2,2.1),(-18.2,-73,4.5),
(51.7,-71,1.9),(21.7,-71.9,2.1),(-45.5,-76.8,3.9),(-1.9,-75.3,1.5),(6.4,-75.5,1.9),(61.6,-74,2.1),(34.3,-77.9,5.8),(-56.4,-78.3,2.4),(-32.8,-80.7,2.1),(-8.6,-85.4,5.4),
(18.5,-85.2,5.6),(52.4,-82.6,1.9),(-21,-86.1,1.6),(-29,-89.3,1.9),(3,-95.5,1.9),(34.1,-91.6,1.7),(-7.7,-97.6,1.7),
]
GENERATE_RED = [
(-11.4,96.5,1.7),(-18.7,97.4,.6),(8.2,99.9,.6),(18.7,97,.9),(-8,90.8,.6),(28.3,86.3,.9),(54.7,81.5,1.3),(-58.9,79.8,1.3),(-39.5,78,1.3),(-32,81.7,.9),
(-14.2,80.1,1.7),(28.9,74.2,1.1),(36.7,72.3,.9),(-64.8,74.6,.6),(-11,72.7,1.3),(10.9,72.3,.6),(55.7,73.2,.9),(22.9,69.3,1.7),(64,69.3,.6),(-74,65.6,1.3),
(-31.2,65.6,1.1),(-78.2,58,1.7),(-67.2,58.8,1.3),(-57.7,59.7,.9),(26,57.9,1.5),(40.6,55.2,.6),(-84.3,52.5,.9),(-2.6,51.3,.5),(17.7,51.5,1.1),(5.2,49.3,1.7),
(40.4,49.3,.5),(-70,50,1.5),(-55.9,46.4,1.3),(-19.6,48.3,1.3),(-2.2,45.2,1.5),(-78.5,38.4,1.5),(-16.2,38.2,1.7),(15.2,38.2,.9),(47.6,43.8,.9),(51.9,40,.6),
(80.2,38.7,.6),(88.7,39.5,1.3),(67,34.1,1.3),(74.8,34.5,1.1),(28.8,35.2,.6),(55.2,30.5,1.7),(61.9,27.6,.6),(-96.2,22.7,1.5),(-82.6,22.5,.6),(-40.4,23.6,.6),
(-24.2,22.3,.6),(4.9,24.3,.9),(21.7,24.3,1.5),(50.5,22.9,1.3),(77,22.3,.6),(96.9,24.3,1.3),(-71.2,19.9,.6),(-54.7,20,1.5),(25.5,18.7,.6),(32.5,17.6,1.3),
(50.5,16.5,.6),(-32.6,14.2,1.1),(-20.7,12.4,1.1),(-9.9,15.5,.4),(-98.4,12,.6),(-74.5,11.4,.6),(-29.1,11.2,.6),(98,11.2,.6),(-11.4,8.6,1.7),(10,9.4,.6),
(64.5,8.8,.6),(87.4,7.5,1.1),(95.6,4.7,1.7),(-53.2,4.3,1.3),(23.5,4.5,.5),(31.6,3,1.5),(-67,.9,.6),(-8.6,1.5,1.3),(11.4,1.9,1.3),(-34.8,-2.1,1.3),
(5.6,-3,.6),(50.7,-.9,1.3),(54.4,-6.2,.6),(82,-7.1,1.3),(-50.5,-11,.5),(61,-12.2,1.5),(-96.9,-14.8,1.3),(-87.3,-15.2,1.3),(-78.2,-15,1.1),(17.6,-13,.9),
(33.5,-13,.6),(-21,-23.6,1.1),(37.4,-20.6,1.5),(-94.4,-29,.9),(-87.3,-28.8,1.3),(-20.5,-30,.5),(50.5,-29,1),(-1,-27.5,.6),(13.3,-29,1.3),(87.7,-28,1.5),
(-61.3,-33.9,1.3),(-41,-36,.5),(-75.5,-37,1.5),(-59.9,-39.5,.9),(17.7,-37.4,1.3),(78.8,-35.6,1.1),(61,-41.2,1.3),(-77.9,-44.9,1.3),(-19.8,-48.3,1.7),(4.4,-48,1.3),
(-36,-51.5,.6),(66,-49.5,1.3),(-79.9,-55.1,1.7),(-66.1,-56.3,1.5),(-58.9,-58,1.5),(-52.9,-54,.9),(-40.4,-54,1.5),(-23,-54.7,.9),(-6.2,-53.2,1.3),(9.4,-55.6,.6),
(18.8,-55.6,1.5),(25.5,-56.7,.9),(46.9,-57.4,.9),(76.8,-61.2,1.5),(-40.1,-67,1.3),(2.6,-68.4,.9),(35.4,-65.4,1.1),(57.6,-66.9,.6),(69.3,-70,1.5),(-53.2,-70.4,.9),
(-33.3,-72.2,1.7),(13.7,-73.8,.9),(45.8,-77.2,1.1),(-25.3,-80.4,.6),(4.4,-83.3,1.5),(-41,-86.3,1.7),(-51.9,-84.6,1.1),(43.8,-86.5,1.7),(8.2,-89.3,.9),(-36,-91.9,1.1),
(-17.9,-96,1.5),(-25,-95.6,.6),(12.2,-96.7,1.7),(25,-95.2,1.3),
]

# Regular-grid panel: cell radius by row, blue cells positive, red cells negative.
GRID_Y = [-100,-91.67,-83.33,-75,-66.67,-58.33,-50,-41.67,-33.33,-25,-16.67,-8.33,0,8.33,16.67,25,33.33,41.67,50,58.33,66.67,75,83.33,91.67,100]
GRID_Z = [100,91.67,83.33,75,66.67,58.33,50,41.67,33.33,25,16.67,8.33,0,-8.33,-16.67,-25,-33.33,-41.67,-50,-58.33,-66.67,-75,-83.33,-91.67,-100]
GRID_RADIUS = [
[0,0,0,0,0,0,0,0,0,0,0,0,-1.9,0,0,0,0,0,0,0,0,0,0,0,0],
[0,0,0,0,0,0,0,0,2.1,1.7,-1.1,4.5,-.5,-.5,-1.3,2.1,2.8,0,0,0,0,0,0,0,0],
[0,0,0,0,0,0,-1.7,-1.9,-1.3,4.9,-2.1,4.5,3,-1.3,1.7,3.6,-.9,3.9,-2.1,0,0,0,0,0,0],
[0,0,0,0,0,-2.1,4.5,-.9,5.4,-2.1,-.9,-1.3,-1.7,-1.1,3.6,-1.5,2.1,3.6,-.5,5.4,0,0,0,0,0],
[0,0,0,0,2.4,-.9,2.1,-.9,5.1,-2.1,1.7,3.2,-1.1,-1.1,-1.1,-1.5,3.9,-1.5,-1.1,1.9,-1.7,0,0,0,0],
[0,0,0,-1.4,-.4,4.7,1.7,3.9,-1.6,-1.1,1.5,2.8,1.9,-2.1,-1.9,3.2,1.5,2.8,-.9,-1.9,4.9,-.9,0,0,0],
[0,0,-1.5,-.9,2.1,-.5,3.9,-1.3,1.5,3.4,-2.1,-2.1,4.3,-1.1,-1.9,-1.5,-.9,4.5,1.9,-1.6,-1.7,-1.7,5.6,0,0],
[0,0,3.2,-1.9,5.6,4.1,1.9,-2.1,2.1,-.6,3.6,-.6,3.4,-1.1,4.7,1.7,-.9,-1.5,3.2,2.6,2.6,1.5,-1.7,0,0],
[0,5.8,-1.1,3,2.8,1.9,-.6,4.9,1.5,-1.1,-2.1,4.5,5.4,-1.5,-.9,-.9,4.3,1.5,-1.1,-1.1,4.5,4.1,-1.5,-1.7,0],
[0,5.4,4.5,-1.9,-1.7,1.7,-1.7,-1.3,-.6,1.7,5.1,-1.7,-1.5,5.4,4.1,-.9,4.3,3.6,-.9,4.7,-1.1,2.1,1.5,3,0],
[0,3.2,-.5,3.2,3.4,-.6,3,3.4,1.7,-1.7,-1.1,-1.1,-1.1,-.4,3.4,2.4,-1.1,-1.1,3.6,4.9,3,-.9,1.9,4.7,0],
[0,-1.1,-1.9,-.4,5.4,-.4,2.8,-1.3,3.2,3.4,-.6,1.7,-.5,-.5,2.8,3.6,-.6,3.6,1.5,-1.7,-1.1,1.5,5.8,3.4,0],
[1.5,4.1,2.1,-.6,-1.5,-1.5,3.4,3.6,-2.1,-1.3,-1.9,2.4,2.1,-.9,-1.5,1.7,-1.9,5.4,1.5,1.7,-1.9,3.4,1.9,4.7,1.5],
[0,-1.9,-1.5,-1.9,-.9,3,2.1,-.4,1.3,1.3,-1.5,5.1,4.1,-1.5,-.6,2.6,-1.9,-1.7,-.4,-.3,4.7,3.2,-.9,4.3,0],
[0,-1.7,2.4,3.2,5.1,-.6,2.4,3.9,5.1,2.8,-1.9,-.9,-.6,-.6,2.1,2.1,3.2,5.1,3.4,2.4,-.9,5.4,-1.1,3.4,0],
[0,-1.7,1.5,-1.9,1.7,-1.7,-1.1,5.4,-2.1,-.9,-.4,-.9,-.3,4.9,-1.7,5.6,2.1,-2.1,-.9,3.6,-1.3,2.6,5.6,-1.7,0],
[0,1.7,-.9,4.3,2.4,2.4,-1.9,2.1,2.1,4.9,-2.1,-.6,-1.3,-.9,-.5,-.3,2.8,3,-1.7,-1.1,2.4,-.9,-.9,2.4,0],
[0,0,4.3,4.1,-.9,3,-.5,1.9,-1.7,3.9,4.7,-2.1,-1.3,4.3,-.6,-.3,-1.9,-1.7,2.4,3,2.8,-.6,5.1,0,0],
[0,0,4.5,-1.9,-1.9,3.4,5.4,-1.1,3.6,-2.1,-2.1,-.6,-1.1,2.4,4.1,3.9,-1.9,4.3,-2.1,-2.1,3.6,1.5,4.1,0,0],
[0,0,0,3,5.4,5.1,-1.5,4.7,-1.5,4.5,2.4,-1.1,-1.5,-.6,-.9,-2.1,-.6,-1.3,3.6,-1.3,1.7,2.1,0,0,0],
[0,0,0,0,-1.3,-.9,1.9,-1.1,2.8,3.2,2.1,-1.3,-.4,3.9,-.9,-1.3,3.4,-2.4,-1.1,2.4,-1.7,0,0,0,0],
[0,0,0,0,0,2.6,5.8,2.4,-1.5,-2.1,4.1,4.7,-1.9,-1.7,-.5,-1.3,2.8,-1.1,3.4,-1.3,0,0,0,0,0],
[0,0,0,0,0,0,-.3,-1.7,3.4,5.1,4.7,-1.5,-1.5,4.9,5.1,-1.5,4.3,1.7,5.1,0,0,0,0,0,0],
[0,0,0,0,0,0,0,0,4.7,-.9,3.2,4.5,-1.9,4.3,5.4,1.5,-1.1,0,0,0,0,0,0,0,0],
[0,0,0,0,0,0,0,0,0,0,0,0,2.6,0,0,0,0,0,0,0,0,0,0,0,0],
]

# Kite-shaped boundary with chamfered corners.
POLY_Y = [0,97,100,60,3,-3,-60,-100,-97,0]
POLY_Z = [200,104,98,0,-97,-97,0,98,104,200]

# Ellipse parameters: centre, semi-axes, tilt in degrees.
ELL_CENTER = (200.0, 0.0)
ELL_SEMI = (120.0, 60.0)
ELL_TILT = -30.0

TITLES = [
    "Circle - placer (delta=2)",
    "Ellipse - placer (delta=2, n_iter=2000)",
    "Polygon - placer (delta_in=2, delta_trace=10)",
    "Circle - from data (direct y/z)",
    "Circle - packing (fit_to_size=True, n_iter=17000)",
    "Circle - generate",
]

W, H = 1500, 1000
BLUE, RED, FONT = "#0000ff", "#ff0000", "DejaVu Sans"

# Pixel boxes of the six axes: left, right, top, bottom.
BOXES = [(188, 530, 125, 466), (598, 940, 170, 420), (1062, 1296, 120, 470),
         (188, 530, 545, 887), (598, 940, 545, 887), (1008, 1350, 545, 887)]
X_RANGES = [(-110, 110), (81.2, 319.5), (-109.3, 109.3), (-110, 110), (-110, 110), (-110, 110)]
Z_RANGES = [(-110, 110), (-87.3, 86.6), (-111, 215.3), (-110, 110), (-110, 110), (-110, 110)]
X_DTICK = [50, 50, 50, 50, 50, 50]
Z_DTICK = [25, 20, 50, 25, 25, 25]
Z_STANDOFF = [6, 6, 5, 6, 7, 6]
TITLE_GAP = [3, 3, 1, 3, 3, 3]
# Thin red dots render faint when antialiased, so they get a little extra diameter.
RED_GROW = [1.2, 1.2, 1.4, 1.1, 1.0, 1.2]

fig = go.Figure()


def px_per_unit(i):
    left, right, _, _ = BOXES[i]
    return (right - left) / (X_RANGES[i][1] - X_RANGES[i][0])


def add_discs(i, items, color, grow=1.0):
    if not items:
        return
    ys, zs, rs = zip(*items)
    scale = px_per_unit(i) * grow
    fig.add_trace(go.Scatter(
        x=ys, y=zs, mode="markers", hoverinfo="skip", showlegend=False,
        marker=dict(color=color, size=[2 * r * scale for r in rs], line_width=0, opacity=1),
        xaxis=f"x{i + 1}", yaxis=f"y{i + 1}",
    ))


def add_outline(i, xs, zs):
    fig.add_trace(go.Scatter(
        x=xs, y=zs, mode="lines", hoverinfo="skip", showlegend=False,
        line=dict(color="black", width=2.08),
        xaxis=f"x{i + 1}", yaxis=f"y{i + 1}",
    ))


grid_blue, grid_red = [], []
for z, row in zip(GRID_Z, GRID_RADIUS):
    for y, r in zip(GRID_Y, row):
        if r > 0:
            grid_blue.append((y, z, r))
        elif r < 0:
            grid_red.append((y, z, -r))

add_discs(0, CIRCLE_RED, RED, RED_GROW[0])
add_discs(0, CIRCLE_BLUE, BLUE)
add_discs(1, ELLIPSE_RED, RED, RED_GROW[1])
add_discs(1, ELLIPSE_BLUE, BLUE)
add_discs(2, POLYGON_RED, RED, RED_GROW[2])
add_discs(2, POLYGON_BLUE, BLUE)
add_discs(3, grid_red, RED, RED_GROW[3])
add_discs(3, grid_blue, BLUE)
add_discs(5, GENERATE_RED, RED, RED_GROW[5])
add_discs(5, GENERATE_BLUE, BLUE)

# Boundaries: circle of radius 100 on four panels, rotated ellipse, polygon.
theta = np.linspace(0, 2 * np.pi, 361)
for i in (0, 3, 4, 5):
    add_outline(i, 100 * np.cos(theta), 100 * np.sin(theta))
tilt = np.radians(ELL_TILT)
ex = ELL_SEMI[0] * np.cos(theta)
ez = ELL_SEMI[1] * np.sin(theta)
add_outline(1, ELL_CENTER[0] + ex * np.cos(tilt) - ez * np.sin(tilt),
            ELL_CENTER[1] + ex * np.sin(tilt) + ez * np.cos(tilt))
add_outline(2, POLY_Y, POLY_Z)

axis_style = dict(
    showgrid=False, zeroline=False, showline=True, mirror=True, linecolor="black",
    linewidth=1, ticks="outside", ticklen=5, tickwidth=1, tickcolor="black", automargin=False,
    tickfont=dict(family=FONT, size=13.9, color="black"),
)
layout = dict(
    width=W, height=H, margin=dict(l=0, r=0, t=0, b=0),
    paper_bgcolor="white", plot_bgcolor="white", showlegend=False,
    font=dict(family=FONT, color="black"), annotations=[],
)
for i, (l, r, t, b) in enumerate(BOXES):
    suffix = i + 1
    layout[f"xaxis{suffix}"] = dict(
        axis_style, domain=[l / W, r / W], range=list(X_RANGES[i]), anchor=f"y{suffix}",
        dtick=X_DTICK[i], tick0=0,
        title=dict(text="Y-axis", font=dict(family=FONT, size=13.9), standoff=6),
    )
    layout[f"yaxis{suffix}"] = dict(
        axis_style, domain=[1 - b / H, 1 - t / H], range=list(Z_RANGES[i]), anchor=f"x{suffix}",
        dtick=Z_DTICK[i], tick0=0,
        title=dict(text="Z-axis", font=dict(family=FONT, size=13.9), standoff=Z_STANDOFF[i]),
    )
    layout["annotations"].append(dict(
        text=TITLES[i], xref="paper", yref="paper", x=(l + r) / 2 / W, y=1 - (t - TITLE_GAP[i]) / H,
        xanchor="center", yanchor="bottom", showarrow=False,
        font=dict(family=FONT, size=16.67, color="black"),
    ))
fig.update_layout(**layout)
fig.write_html("out.html")
